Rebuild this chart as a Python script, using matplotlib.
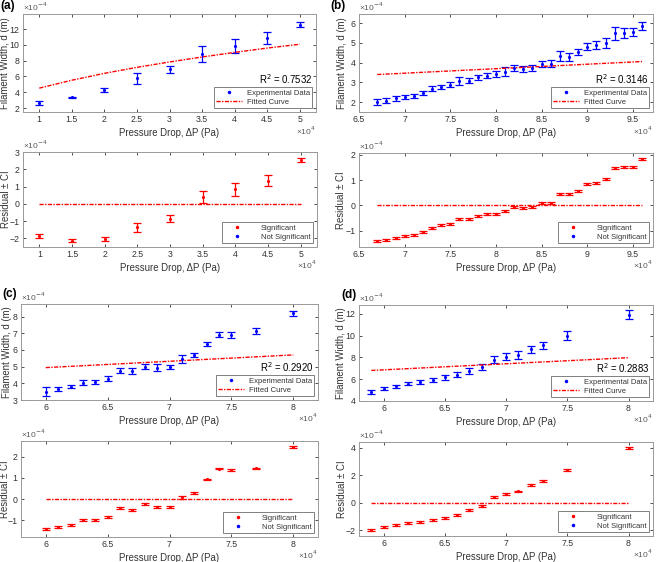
import matplotlib
matplotlib.use("Agg")
import matplotlib.pyplot as plt
from matplotlib.lines import Line2D

plt.rcParams['font.family'] = ['Liberation Sans', 'DejaVu Sans']

# ---------------- data (x in 1e4 Pa, y in 1e-4 m) ----------------
# Panel (a)
xa = [1, 1.5, 2, 2.5, 3, 3.5, 4, 4.5, 5]
da = [2.63, 3.34, 4.27, 5.74, 6.90, 8.80, 9.86, 10.87, 12.57]
ea = [0.27, 0.10, 0.27, 0.67, 0.48, 1.00, 0.90, 0.80, 0.36]
fa = [4.52, 5.52, 6.39, 7.15, 7.83, 8.46, 9.04, 9.59, 10.07]
ra = [-1.85, -2.13, -2.06, -1.37, -0.85, 0.40, 0.83, 1.35, 2.54]
rea = [0.10, 0.07, 0.12, 0.28, 0.18, 0.37, 0.36, 0.31, 0.14]
r2a = "0.7532"

# Panel (b)
xb = [6.7, 6.8, 6.9, 7.0, 7.1, 7.2, 7.3, 7.4, 7.5, 7.6, 7.7, 7.8, 7.9, 8.0, 8.1,
      8.2, 8.3, 8.4, 8.5, 8.6, 8.7, 8.8, 8.9, 9.0, 9.1, 9.2, 9.3, 9.4, 9.5, 9.6]
db = [2.02, 2.08, 2.19, 2.27, 2.30, 2.44, 2.68, 2.79, 2.89, 3.06, 3.08, 3.25, 3.35, 3.42, 3.55,
      3.72, 3.69, 3.74, 3.94, 3.94, 4.33, 4.30, 4.53, 4.82, 4.90, 5.00, 5.50, 5.51, 5.54, 5.87]
eb = [0.14, 0.12, 0.11, 0.10, 0.10, 0.10, 0.12, 0.10, 0.12, 0.20, 0.12, 0.14, 0.13, 0.14, 0.21,
      0.14, 0.14, 0.14, 0.17, 0.18, 0.26, 0.19, 0.15, 0.17, 0.19, 0.27, 0.33, 0.24, 0.21, 0.21]
fit_xb = [6.7, 9.6]
fb = [3.40, 4.06]
rb = [-1.42, -1.36, -1.28, -1.23, -1.19, -1.07, -0.89, -0.78, -0.73, -0.56, -0.56, -0.44, -0.34, -0.33, -0.23,
      -0.07, -0.11, -0.08, 0.08, 0.09, 0.46, 0.44, 0.58, 0.83, 0.87, 1.05, 1.47, 1.52, 1.52, 1.83]
reb = [0.04] * 30
r2b = "0.3146"

# Panel (c)
xc = [6.0, 6.1, 6.2, 6.3, 6.4, 6.5, 6.6, 6.7, 6.8, 6.9, 7.0, 7.1, 7.2, 7.3, 7.4, 7.5, 7.7, 8.0]
dc = [3.50, 3.64, 3.80, 4.04, 4.08, 4.28, 4.76, 4.72, 5.00, 4.94, 4.98, 5.46, 5.70, 6.38, 6.90, 6.90, 7.12, 8.20]
ec = [0.25, 0.12, 0.10, 0.13, 0.12, 0.17, 0.15, 0.18, 0.15, 0.22, 0.13, 0.25, 0.14, 0.12, 0.15, 0.20, 0.18, 0.15]
fit_xc = [6.0, 8.0]
fc = [4.94, 5.70]
rc = [-1.44, -1.33, -1.22, -1.00, -0.98, -0.85, -0.44, -0.51, -0.25, -0.39, -0.38, 0.08, 0.28, 0.93, 1.44, 1.37, 1.45, 2.45]
rec = [0.05] * 11 + [0.07] + [0.04] * 6
r2c = "0.2920"

# Panel (d)
xd = [5.9, 6.0, 6.1, 6.2, 6.3, 6.4, 6.5, 6.6, 6.7, 6.8, 6.9, 7.0, 7.1, 7.2, 7.3, 7.5, 8.0]
dd = [4.86, 5.13, 5.37, 5.59, 5.71, 5.92, 6.17, 6.41, 6.78, 7.14, 7.79, 8.06, 8.21, 8.73, 9.10, 9.98, 11.90]
ed = [0.18, 0.15, 0.14, 0.15, 0.18, 0.18, 0.20, 0.25, 0.27, 0.26, 0.35, 0.32, 0.33, 0.30, 0.30, 0.40, 0.40]
fit_xd = [5.9, 8.0]
fd = [6.80, 7.97]
rd = [-1.94, -1.77, -1.62, -1.45, -1.36, -1.21, -1.09, -0.85, -0.51, -0.22, 0.44, 0.65, 0.82, 1.26, 1.55, 2.35, 3.99]
red_ = [0.07] * 17
r2d = "0.2883"

W, H = 656, 562
fig = plt.figure(figsize=(W / 100, H / 100), dpi=100)


def pos(l, r, t, b):
    return [l / W, 1 - b / H, (r - l) / W, (b - t) / H]


GREY = '0.2'
SPINE = '0.6'
TICKFS = 6.3
LABFS = 6.9
LEGFS = 5.5
FITLS = (0, (3, 1, 1, 1))


def fmt(v):
    s = ('%g' % v)
    return s.replace('-', '−') if v < 0 else s


def style(ax, rect, xlim, ylim, xticks, yticks, ylabel, ylab_px):
    ax.set_xlim(xlim)
    ax.set_ylim(ylim)
    ax.set_xticks(xticks)
    ax.set_xticklabels([fmt(t) for t in xticks])
    ax.set_yticks(yticks)
    ax.set_yticklabels([fmt(t) for t in yticks])
    ax.tick_params(direction='in', length=2.5, width=0.6, labelsize=TICKFS, colors=GREY,
                   top=True, right=True, pad=2.5)
    for s in ax.spines.values():
        s.set_color(SPINE)
        s.set_linewidth(0.7)
    ax.set_xlabel('Pressure Drop, ΔP (Pa)', fontsize=LABFS, color=GREY, labelpad=2.5)
    ax.set_ylabel(ylabel, fontsize=LABFS, color=GREY, va='center')
    l, r = rect[0], rect[1]
    ax.yaxis.set_label_coords((ylab_px - l) / (r - l), 0.5)
    ax.text(0.0, 1.015, '×10$^{-4}$', transform=ax.transAxes, fontsize=6,
            color='0.35', ha='left', va='bottom')
    ax.text(1.0, -0.19, '×10$^{4}$', transform=ax.transAxes, fontsize=6,
            color='0.35', ha='right', va='center')


def make_legend(ax, handles, labels, tp):
    leg = ax.legend(handles, labels, loc='lower right',
                    fontsize=LEGFS, frameon=True, fancybox=False, framealpha=1,
                    edgecolor='0.5', borderaxespad=0.5, handlelength=3.4,
                    handletextpad=tp, borderpad=0.3, labelspacing=0.2)
    leg.get_frame().set_linewidth(0.7)
    for t in leg.get_texts():
        t.set_color(GREY)
    return leg


def top_panel(rect, x, d, e, fx, fy, r2, xlim, ylim, xticks, yticks, label, lpos, ylab_px):
    ax = fig.add_axes(pos(*rect))
    ax.errorbar(x, d, yerr=e, fmt='.', color='blue', ecolor='blue', markersize=2.5,
                elinewidth=0.9, capsize=2.6, capthick=0.9)
    ax.plot(fx, fy, color='red', lw=1.0, ls=FITLS)
    style(ax, rect, xlim, ylim, xticks, yticks, 'Filament Width, d (m)', ylab_px)
    handles = [Line2D([], [], ls='none', marker='.', color='blue', markersize=3),
               Line2D([], [], color='red', lw=1.0, ls=FITLS)]
    leg = make_legend(ax, handles, ['Experimental Data', 'Fitted Curve'], 0.6)
    fig.canvas.draw()
    bb = leg.get_window_extent().transformed(ax.transAxes.inverted())
    ax.text(bb.x1, bb.y1 + 0.015, 'R$^2$ = ' + r2, transform=ax.transAxes, fontsize=6.9,
            ha='right', va='bottom', color='black')
    fig.text(lpos[0] / W, 1 - lpos[1] / H, label, fontsize=8.5, fontweight='bold',
             ha='left', va='top')
    return ax


def res_panel(rect, x, r, e, xlim, ylim, xticks, yticks, ylab_px):
    ax = fig.add_axes(pos(*rect))
    ax.plot([x[0], x[-1]], [0, 0], color='red', lw=1.0, ls=FITLS)
    ax.errorbar(x, r, yerr=e, fmt='.', color='red', ecolor='red', markersize=2.5,
                elinewidth=0.9, capsize=2.6, capthick=0.9)
    style(ax, rect, xlim, ylim, xticks, yticks, 'Residual ± CI', ylab_px)
    handles = [Line2D([], [], ls='none', marker='.', color='red', markersize=3),
               Line2D([], [], ls='none', marker='.', color='blue', markersize=3)]
    make_legend(ax, handles, ['Significant', 'Not Significant'], 1.4)
    return ax


# (a)
top_panel((23, 316, 14, 112), xa, da, ea, xa, fa, r2a, (0.75, 5.25), (1.5, 13.9),
          [1, 1.5, 2, 2.5, 3, 3.5, 4, 4.5, 5], [2, 4, 6, 8, 10, 12], '(a)', (0, 0), 5.5)
res_panel((23, 317, 152, 247), xa, ra, rea, (0.75, 5.25), (-2.5, 3),
          [1, 1.5, 2, 2.5, 3, 3.5, 4, 4.5, 5], [-2, -1, 0, 1, 2, 3], 5.5)
# (b)
top_panel((359, 653, 14, 112), xb, db, eb, fit_xb, fb, r2b, (6.5, 9.72), (1.5, 6.47),
          [6.5, 7, 7.5, 8, 8.5, 9, 9.5], [2, 3, 4, 5, 6], '(b)', (330, 0), 342)
res_panel((359, 653, 153, 247), xb, rb, reb, (6.5, 9.72), (-1.65, 2.07),
          [6.5, 7, 7.5, 8, 8.5, 9, 9.5], [-1, 0, 1, 2], 341)
# (c)
top_panel((21, 318, 304, 400), xc, dc, ec, fit_xc, fc, r2c, (5.8, 8.2), (3, 8.75),
          [6, 6.5, 7, 7.5, 8], [3, 4, 5, 6, 7, 8], '(c)', (2, 288), 7)
res_panel((21, 318, 441, 537), xc, rc, rec, (5.8, 8.2), (-1.8, 2.75),
          [6, 6.5, 7, 7.5, 8], [-1, 0, 1, 2], 5.5)
# (d)
top_panel((359, 653, 305, 401), xd, dd, ed, fit_xd, fd, r2d, (5.8, 8.2), (4, 12.8),
          [6, 6.5, 7, 7.5, 8], [4, 6, 8, 10, 12], '(d)', (341, 289), 341)
res_panel((359, 653, 442, 536), xd, rd, red_, (5.8, 8.2), (-2.4, 4.4),
          [6, 6.5, 7, 7.5, 8], [-2, 0, 2, 4], 342)

fig.savefig('out.png', dpi=100)
